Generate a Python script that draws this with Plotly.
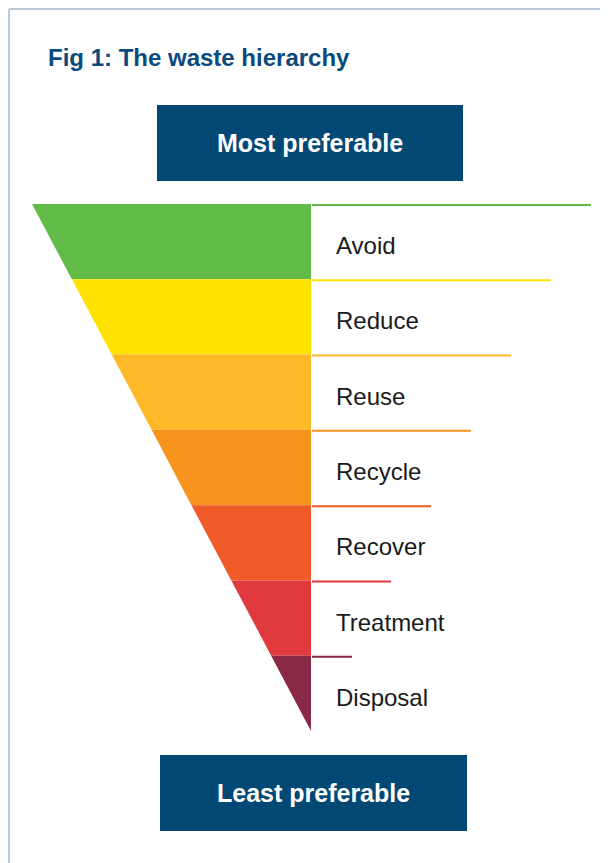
import plotly.graph_objects as go

# --- data
levels = ['Avoid', 'Reduce', 'Reuse', 'Recycle', 'Recover', 'Treatment', 'Disposal']
colors = ['#62bb46', '#ffe200', '#fdb927', '#f7941d', '#f15a29', '#e03a3e', '#8b2a47']
line_ends = [591, 551, 511, 471, 431, 391, 352]
title = 'Fig 1: The waste hierarchy'
top_label = 'Most preferable'
bottom_label = 'Least preferable'

navy = '#024874'
border = '#b9cadb'
FONT = 'Liberation Sans, Arial'

# funnel geometry (pixel space of the page; the page body has an 8px margin)
x_left, x_mid = 32, 311
y_top, y_apex = 204, 731
band_h = (y_apex - y_top) / len(levels)
OFF = 8


def edge_x(y):
    return x_left + (x_mid - x_left) * (y - y_top) / (y_apex - y_top)


fig = go.Figure()

for i, (name, col) in enumerate(zip(levels, colors)):
    y0 = y_top + i * band_h
    y1 = y0 + band_h
    fig.add_trace(go.Scatter(x=[edge_x(y0), x_mid, x_mid, edge_x(y1), edge_x(y0)],
                             y=[y0, y0, y1, y1, y0],
                             mode='lines', fill='toself', fillcolor=col,
                             line=dict(width=0, color=col),
                             hoverinfo='skip', showlegend=False))
    # divider line to the right
    fig.add_trace(go.Scatter(x=[x_mid + 1, line_ends[i]], y=[y0 + 1, y0 + 1],
                             mode='lines', line=dict(width=2, color=col),
                             hoverinfo='skip', showlegend=False))
    fig.add_annotation(x=334, y=y0 + band_h / 2 + 4, text=name, showarrow=False,
                       xanchor='left', yanchor='middle',
                       font=dict(family=FONT, size=24, color='#1a1a1a'))

# boxes
shapes = [
    dict(type='rect', x0=157, x1=463, y0=105, y1=181, fillcolor=navy, line_width=0, layer='below'),
    dict(type='rect', x0=160, x1=467, y0=755, y1=831, fillcolor=navy, line_width=0, layer='below'),
    # frame
    dict(type='line', x0=9, x1=608, y0=9, y1=9, line=dict(color=border, width=2)),
    dict(type='line', x0=9, x1=9, y0=9, y1=863, line=dict(color=border, width=2)),
]
fig.add_annotation(x=310, y=143, text='<b>%s</b>' % top_label, showarrow=False,
                   font=dict(family=FONT, size=25, color='white'))
fig.add_annotation(x=313.5, y=793, text='<b>%s</b>' % bottom_label, showarrow=False,
                   font=dict(family=FONT, size=25, color='white'))
fig.add_annotation(x=46, y=57, text='<b>%s</b>' % title, showarrow=False,
                   xanchor='left', yanchor='middle',
                   font=dict(family=FONT, size=24, color='#0a4a7c'))

fig.update_layout(width=608 - OFF, height=863 - OFF,
                  margin=dict(l=0, r=0, t=0, b=0),
                  paper_bgcolor='white', plot_bgcolor='white',
                  shapes=shapes,
                  xaxis=dict(range=[OFF, 608], visible=False, fixedrange=True),
                  yaxis=dict(range=[863, OFF], visible=False, fixedrange=True))

fig.write_html("out.html")
